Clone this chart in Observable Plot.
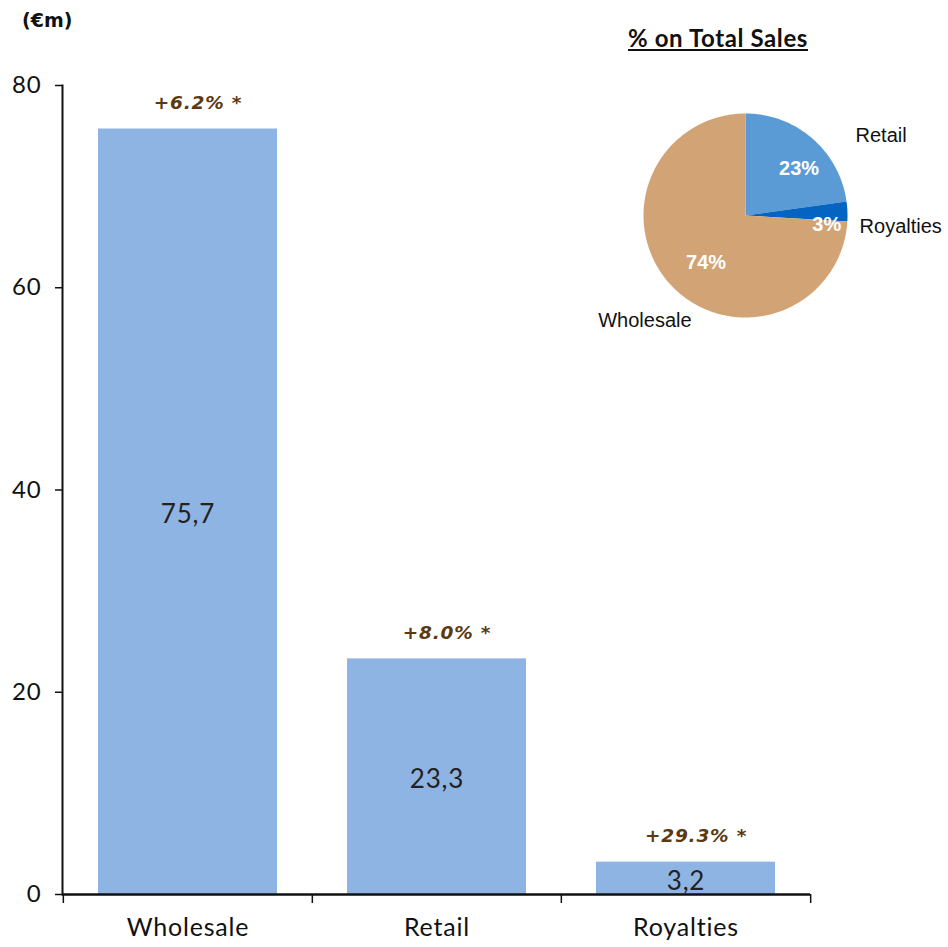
<!DOCTYPE html>
<html><head><meta charset="utf-8">
<script src="https://cdn.jsdelivr.net/npm/d3@7"></script>
<script src="https://cdn.jsdelivr.net/npm/@observablehq/plot@0.6"></script>
<style>
body{margin:0;background:#fff;}
#wrap{position:relative;width:948px;height:947px;overflow:hidden;}
#unit{position:absolute;left:22px;top:9px;font:bold 19px 'DejaVu Sans', sans-serif;color:#111;}
#bars{position:absolute;left:0;top:0;}
#pie{position:absolute;left:580px;top:20px;}
#pietitle{position:absolute;left:580px;top:23px;width:276px;text-align:center;font:bold 24px Lato, sans-serif;letter-spacing:0.6px;text-decoration:underline;color:#111;}
</style></head><body>
<div id="wrap"><div id="bars"></div><div id="pie"></div><div id="unit">(€m)</div><div id="pietitle">% on Total Sales</div></div>
<script>
const categories = ["Wholesale", "Retail", "Royalties"];
const sales = [75.7, 23.3, 3.2];
const growth = ["+6.2% *", "+8.0% *", "+29.3% *"];
const yTicks = [0, 20, 40, 60, 80];
const pieOrder = ["Retail", "Royalties", "Wholesale"];
const pieColors = ["#5B9BD5", "#0563C1", "#D2A374"];

const data = categories.map((c, i) => ({cat: c, value: sales[i], growth: growth[i]}));
const fmt = v => d3.format(".1f")(v).replace(".", ",");

const W = 948, H = 947, mL = 62, mR = 138, mT = 85, mB = 53;
const bw = (W - mL - mR) / categories.length;
const font = "Lato, sans-serif";

const bars = Plot.plot({
  width: W, height: H,
  marginLeft: mL, marginRight: mR, marginTop: mT, marginBottom: mB,
  style: {fontFamily: font, background: "transparent", color: "#111", letterSpacing: "0.8px"},
  x: {domain: categories, padding: 0},
  y: {domain: [0, 80]},
  marks: [
    Plot.barY(data, {x: "cat", y: "value", fill: "#8EB4E3", insetLeft: 35, insetRight: 35}),
    Plot.axisY({ticks: yTicks, tickSize: 7, tickPadding: 14, fontSize: 24, stroke: "#111", strokeWidth: 1.5, label: null, fill: "#111"}),
    Plot.axisX({tickSize: 0, tickPadding: 24, fontSize: 25, label: null, fill: "#111"}),
    Plot.frame({anchor: "left", stroke: "#111", strokeWidth: 2}),
    Plot.ruleY([0], {stroke: "#111", strokeWidth: 2.5}),
    Plot.ruleX(categories, {x: d => d, y1: 0, y2: 0, dx: -bw / 2, insetBottom: -9, stroke: "#111", strokeWidth: 1.5}),
    Plot.ruleX(categories.slice(-1), {x: d => d, y1: 0, y2: 0, dx: bw / 2, insetBottom: -9, stroke: "#111", strokeWidth: 1.5}),
    Plot.text(data, {x: "cat", y: d => d.value / 2, text: d => fmt(d.value), dy: 3, fontSize: 26, fill: "#222"}),
    Plot.text(data, {x: "cat", y: "value", text: "growth", dy: -26, dx: 10, fontSize: 18.5, fontFamily: "'DejaVu Sans', sans-serif", fontStyle: "italic", fontWeight: "bold", fill: "#5C3A11"})
  ]
});
document.getElementById("bars").appendChild(bars);

// pie
const total = d3.sum(sales);
const pieVals = pieOrder.map(n => sales[categories.indexOf(n)]);
let acc = 0;
const slices = pieOrder.map((n, i) => {
  const a0 = acc / total * 2 * Math.PI;
  acc += pieVals[i];
  const a1 = acc / total * 2 * Math.PI;
  return {name: n, a0, a1, mid: (a0 + a1) / 2, pct: Math.round(pieVals[i] / total * 100) + "%"};
});
const piePts = [];
for (const s of slices) {
  piePts.push({name: s.name, x: 0, y: 0});
  const n = Math.max(2, Math.ceil((s.a1 - s.a0) / 0.02));
  for (let k = 0; k <= n; k++) {
    const a = s.a0 + (s.a1 - s.a0) * k / n;
    piePts.push({name: s.name, x: Math.sin(a), y: Math.cos(a)});
  }
  piePts.push({name: s.name, x: 0, y: 0});
}
const at = (s, r) => ({...s, x: r * Math.sin(s.mid), y: r * Math.cos(s.mid)});
const lab = n => slices.find(s => s.name === n);

const pie = Plot.plot({
  width: 368, height: 320, margin: 0,
  style: {background: "transparent", fontFamily: "'Liberation Sans', Arial, sans-serif"},
  x: {domain: [-1, 1], range: [63, 267], axis: null},
  y: {domain: [-1, 1], range: [297, 93], axis: null},
  color: {domain: pieOrder, range: pieColors},
  marks: [
    Plot.line(piePts, {x: "x", y: "y", z: "name", fill: "name", stroke: "none", curve: "linear"}),
    Plot.text([at(lab("Retail"), 0.68)], {x: "x", y: "y", text: "pct", dx: 8, dy: 5, fill: "white", fontWeight: "bold", fontSize: 20}),
    Plot.text([at(lab("Royalties"), 0.68)], {x: "x", y: "y", text: "pct", dx: 12, dy: 12, fill: "white", fontWeight: "bold", fontSize: 20}),
    Plot.text([at(lab("Wholesale"), 0.68)], {x: "x", y: "y", text: "pct", dx: 11, dy: 0, fill: "white", fontWeight: "bold", fontSize: 20}),
    Plot.text([at(lab("Retail"), 1.3)], {x: "x", y: "y", text: "name", textAnchor: "start", dx: 23, dy: 20, fill: "#111", fontSize: 20}),
    Plot.text([at(lab("Royalties"), 1.1)], {x: "x", y: "y", text: "name", textAnchor: "start", dx: 2, dy: 16, fill: "#111", fontSize: 20}),
    Plot.text([at(lab("Wholesale"), 1.1)], {x: "x", y: "y", text: "name", textAnchor: "middle", dx: -19, dy: 28, fill: "#111", fontSize: 20})
  ]
});
document.getElementById("pie").appendChild(pie);
</script>
</body></html>
